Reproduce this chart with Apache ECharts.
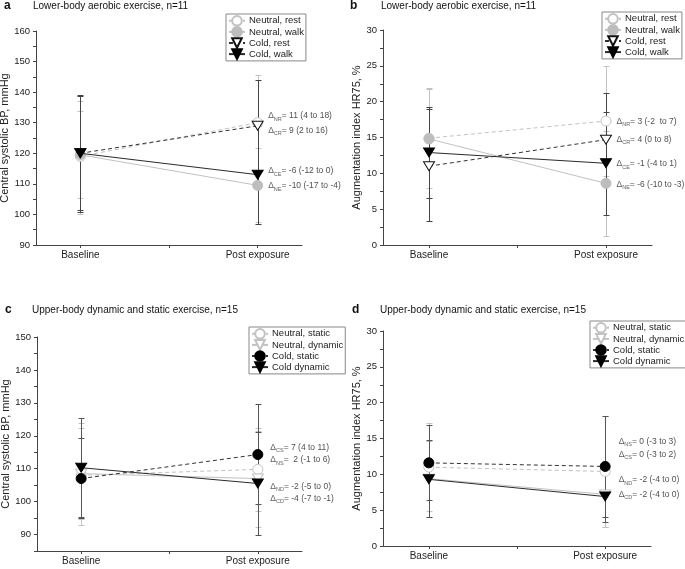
<!DOCTYPE html>
<html><head><meta charset="utf-8">
<script src="https://cdn.jsdelivr.net/npm/echarts@6/dist/echarts.min.js"></script>
<style>html,body{margin:0;padding:0;background:#fff}#c{width:685px;height:569px}</style>
</head><body><div id="c"></div>
<script>
// ---------- data ----------
const timepoints = ['Baseline', 'Post exposure'];

// Panel a: central systolic BP, lower-body aerobic exercise
const aNames = ['Neutral, rest', 'Neutral, walk', 'Cold, rest', 'Cold, walk'];
const aMean = [[119, 130], [119.5, 109.5], [120, 129], [120, 113]];
const aLow  = [[100, 114], [105.3, 97.4], [101.5, 114], [100.9, 96.9]];
const aHigh = [[137.2, 145.6], [133.7, 121.6], [139, 143.9], [138.8, 129]];
const aDeltaSub = ['NR', 'CR', 'CE', 'NE'];
const aDeltaText = ['= 11 (4 to 18)', '= 9 (2 to 16)', '= -6 (-12 to 0)', '= -10 (-17 to -4)'];
const aDeltaAt = [132.2, 127.3, 114.2, 109.3];

// Panel b: augmentation index, lower-body aerobic exercise
const bMean = [[14.9, 17.3], [14.8, 8.6], [11.0, 14.7], [12.9, 11.4]];
const bLow  = [[6.5, 9.6], [7.9, 1.3], [3.3, 8.2], [6.6, 4.2]];
const bHigh = [[21.9, 25.0], [21.7, 15.9], [19.0, 21.2], [19.3, 18.5]];
const bDeltaSub = ['NR', 'CR', 'CE', 'NE'];
const bDeltaText = ['= 3 (-2  to 7)', '= 4 (0 to 8)', '= -1 (-4 to 1)', '= -6 (-10 to -3)'];
const bDeltaAt = [17.2, 14.7, 11.3, 8.4];

// Panel c: central systolic BP, upper-body exercise
const cNames = ['Neutral, static', 'Neutral, dynamic', 'Cold, static', 'Cold dynamic'];
const cMean = [[108, 109.8], [108.5, 107], [107, 114.3], [110.3, 105.5]];
const cLow  = [[92.9, 97.2], [94.7, 92.4], [95.4, 99.4], [95.1, 89.8]];
const cHigh = [[123.9, 122.4], [122.5, 121.6], [119.2, 129.5], [125.5, 121.2]];
const cDeltaSub = ['CS', 'NS', 'ND', 'CD'];
const cDeltaText = ['= 7 (4 to 11)', '=  2 (-1 to 6)', '= -2 (-5 to 0)', '= -4 (-7 to -1)'];
const cDeltaAt = [116.4, 112.6, 104.5, 101];

// Panel d: augmentation index, upper-body exercise
const dMean = [[11.0, 10.4], [9.4, 7.2], [11.6, 11.1], [9.3, 6.9]];
const dLow  = [[4.9, 2.6], [4.1, 2.7], [6.4, 4.1], [4.0, 3.4]];
const dHigh = [[17.1, 18.2], [14.7, 11.7], [16.9, 18.1], [14.8, 10.4]];
const dDeltaSub = ['NS', 'CS', 'ND', 'CD'];
const dDeltaText = ['= 0 (-3 to 3)', '= 0 (-3 to 2)', '= -2 (-4 to 0)', '= -2 (-4 to 0)'];
const dDeltaAt = [14.6, 12.7, 9.2, 7.2];

// ---------- styles ----------
const FONT = 'Liberation Sans, Arial, sans-serif';
const LIGHT = '#c2c2c2';
const DARK = '#2a2a2a';
const TRI = 'path://M0,0 L10,0 L5,9 Z';
const styleAB = [
  {symbol: 'circle', size: 10, fill: '#fff', stroke: LIGHT, line: LIGHT, dash: [4, 3], err: LIGHT},
  {symbol: 'circle', size: 10, fill: '#bdbdbd', stroke: '#bdbdbd', line: LIGHT, dash: 'solid', err: LIGHT},
  {symbol: TRI, size: [11, 10], fill: '#fff', stroke: '#111', line: '#333', dash: [4, 3], err: '#444'},
  {symbol: TRI, size: [11, 10], fill: '#000', stroke: '#000', line: DARK, dash: 'solid', err: '#444'}
];
const styleCD = [
  {symbol: 'circle', size: 10, fill: '#fff', stroke: LIGHT, line: LIGHT, dash: [4, 3], err: LIGHT},
  {symbol: TRI, size: [11, 10], fill: '#fff', stroke: LIGHT, line: LIGHT, dash: 'solid', err: LIGHT},
  {symbol: 'circle', size: 10, fill: '#000', stroke: '#000', line: '#333', dash: [4, 3], err: '#555'},
  {symbol: TRI, size: [11, 10], fill: '#000', stroke: '#000', line: DARK, dash: 'solid', err: '#555'}
];

function errRender(color) {
  return function (params, api) {
    const x = api.value(0);
    const p1 = api.coord([x, api.value(1)]);
    const p2 = api.coord([x, api.value(2)]);
    const cx = Math.round(p1[0]) + 0.5;
    const y1 = Math.round(p1[1]) + 0.5, y2 = Math.round(p2[1]) + 0.5;
    const w = 3;
    const st = {stroke: color, lineWidth: 1};
    return {type: 'group', children: [
      {type: 'line', shape: {x1: cx, y1: y1, x2: cx, y2: y2}, style: st},
      {type: 'line', shape: {x1: cx - w, y1: y1, x2: cx + w, y2: y1}, style: st},
      {type: 'line', shape: {x1: cx - w, y1: y2, x2: cx + w, y2: y2}, style: st}
    ]};
  };
}

const series = [];
function addPanel(idx, names, styles, mean, low, high, dSub, dText, dAt, labelGap) {
  const order = [0, 1, 2, 3].sort((i, j) => (styles[i].err === LIGHT ? 0 : 1) - (styles[j].err === LIGHT ? 0 : 1));
  order.forEach((i, k) => {
    series.push({
      type: 'custom', xAxisIndex: idx, yAxisIndex: idx, z: 1 + k * 0.1, silent: true,
      renderItem: errRender(styles[i].err),
      encode: {x: 0, y: [1, 2]},
      data: [0, 1].map(t => [t, low[i][t], high[i][t]])
    });
  });
  names.forEach((nm, i) => {
    const s = styles[i];
    series.push({
      type: 'line', name: nm, xAxisIndex: idx, yAxisIndex: idx, z: 3 + i * 0.1,
      symbol: s.symbol, symbolSize: s.size, symbolKeepAspect: true,
      itemStyle: {color: s.fill, borderColor: s.stroke, borderWidth: 1, opacity: 1},
      lineStyle: {color: s.line, width: 1, type: s.dash},
      data: [0, 1].map(t => [t, mean[i][t]]),
      emphasis: {disabled: true}
    });
  });
  series.push({
    type: 'scatter', xAxisIndex: idx, yAxisIndex: idx, z: 5, silent: true,
    symbolSize: 1, itemStyle: {color: 'rgba(0,0,0,0)'},
    data: dAt.map((y, i) => ({value: [1, y], sub: dSub[i], txt: dText[i]})),
    label: {
      show: true, position: 'right', distance: labelGap,
      formatter: p => '{d|\u0394}{s|' + p.data.sub + '}{t|' + p.data.txt + '}',
      rich: {
        d: {fontSize: 8.5, fontFamily: FONT, color: '#333', lineHeight: 12, verticalAlign: 'middle'},
        s: {fontSize: 5.5, fontFamily: FONT, color: '#333', lineHeight: 12, verticalAlign: 'bottom'},
        t: {fontSize: 8.5, fontFamily: FONT, color: '#222', lineHeight: 12, verticalAlign: 'middle'}
      }
    }
  });
}
addPanel(0, aNames, styleAB, aMean, aLow, aHigh, aDeltaSub, aDeltaText, aDeltaAt, 10);
addPanel(1, aNames, styleAB, bMean, bLow, bHigh, bDeltaSub, bDeltaText, bDeltaAt, 10);
addPanel(2, cNames, styleCD, cMean, cLow, cHigh, cDeltaSub, cDeltaText, cDeltaAt, 12);
addPanel(3, cNames, styleCD, dMean, dLow, dHigh, dDeltaSub, dDeltaText, dDeltaAt, 13);

const grids = [
  {left: 36, top: 31, width: 266, height: 214},
  {left: 383, top: 30, width: 269, height: 215},
  {left: 37, top: 337, width: 265, height: 214},
  {left: 383, top: 331, width: 268, height: 215}
].map(g => Object.assign({outerBoundsMode: 'none', containLabel: false}, g));

const axisLineStyle = {color: '#444', width: 1};
const xAxes = [[-0.25, 1.25], [-0.26, 1.26], [-0.25, 1.25], [-0.26, 1.26]].map((r, i) => ({
  type: 'value', gridIndex: i, min: r[0], max: r[1],
  splitLine: {show: false},
  axisLine: {show: true, onZero: false, lineStyle: axisLineStyle},
  axisTick: {show: true, length: 3, lineStyle: axisLineStyle, customValues: [0, 0.5, 1]},
  axisLabel: {customValues: [0, 1], formatter: v => timepoints[Math.round(v)], fontSize: 10, fontFamily: FONT, color: '#222', margin: 5}
}));

function yAxis(i, min, max, step, labelStep, name, gap) {
  return {
    type: 'value', gridIndex: i, min: min, max: max, interval: step,
    name: name, nameLocation: 'middle', nameGap: gap,
    nameTextStyle: {fontSize: 11, fontFamily: FONT, color: '#222'},
    splitLine: {show: false},
    axisLine: {show: true, onZero: false, lineStyle: axisLineStyle},
    axisTick: {show: true, length: 3, lineStyle: axisLineStyle},
    axisLabel: {formatter: v => (Math.abs(v / labelStep - Math.round(v / labelStep)) < 1e-6 ? String(v) : ''), fontSize: 9.5, fontFamily: FONT, color: '#222', margin: 6}
  };
}
const yAxes = [
  yAxis(0, 90, 160, 5, 10, 'Central systolic BP, mmHg', 23),
  yAxis(1, 0, 30, 2.5, 5, 'Augmentation index HR75, %', 16),
  yAxis(2, 85, 150, 5, 10, 'Central systolic BP, mmHg', 23),
  yAxis(3, 0, 30, 2.5, 5, 'Augmentation index HR75, %', 16)
];

function legend(names, left, top) {
  return {
    data: names, left: left, top: top, orient: 'vertical', align: 'left',
    itemWidth: 16, itemHeight: 12, itemGap: -0.5, padding: [1, 2, 1, 2],
    borderColor: '#888', borderWidth: 1, backgroundColor: '#fff',
    iconRotate: 'inherit', selectedMode: false,
    textStyle: {fontSize: 9.5, fontFamily: FONT, color: '#222', padding: [0, 0, 0, -1]}
  };
}

function label(x, y, t, bold) {
  return {type: 'text', left: x, top: y, style: {text: t, fill: '#111',
    font: (bold ? 'bold 12px ' : '10px ') + FONT}};
}

const chart = echarts.init(document.getElementById('c'), null, {renderer: 'canvas'});
chart.setOption({
  animation: false,
  backgroundColor: '#fff',
  grid: grids,
  xAxis: xAxes,
  yAxis: yAxes,
  legend: [
    legend(aNames, 226, 14),
    legend(aNames, 602, 12),
    legend(cNames, 249, 327),
    legend(cNames, 590, 321)
  ],
  graphic: [
    label(4, 0, 'a', true), label(33, 1, 'Lower-body aerobic exercise, n=11'),
    label(350, 0, 'b', true), label(381, 1, 'Lower-body aerobic exercise, n=11'),
    label(5, 304, 'c', true), label(32, 305, 'Upper-body dynamic and static exercise, n=15'),
    label(352, 304, 'd', true), label(380, 305, 'Upper-body dynamic and static exercise, n=15')
  ],
  series: series
});
</script>
</body></html>
